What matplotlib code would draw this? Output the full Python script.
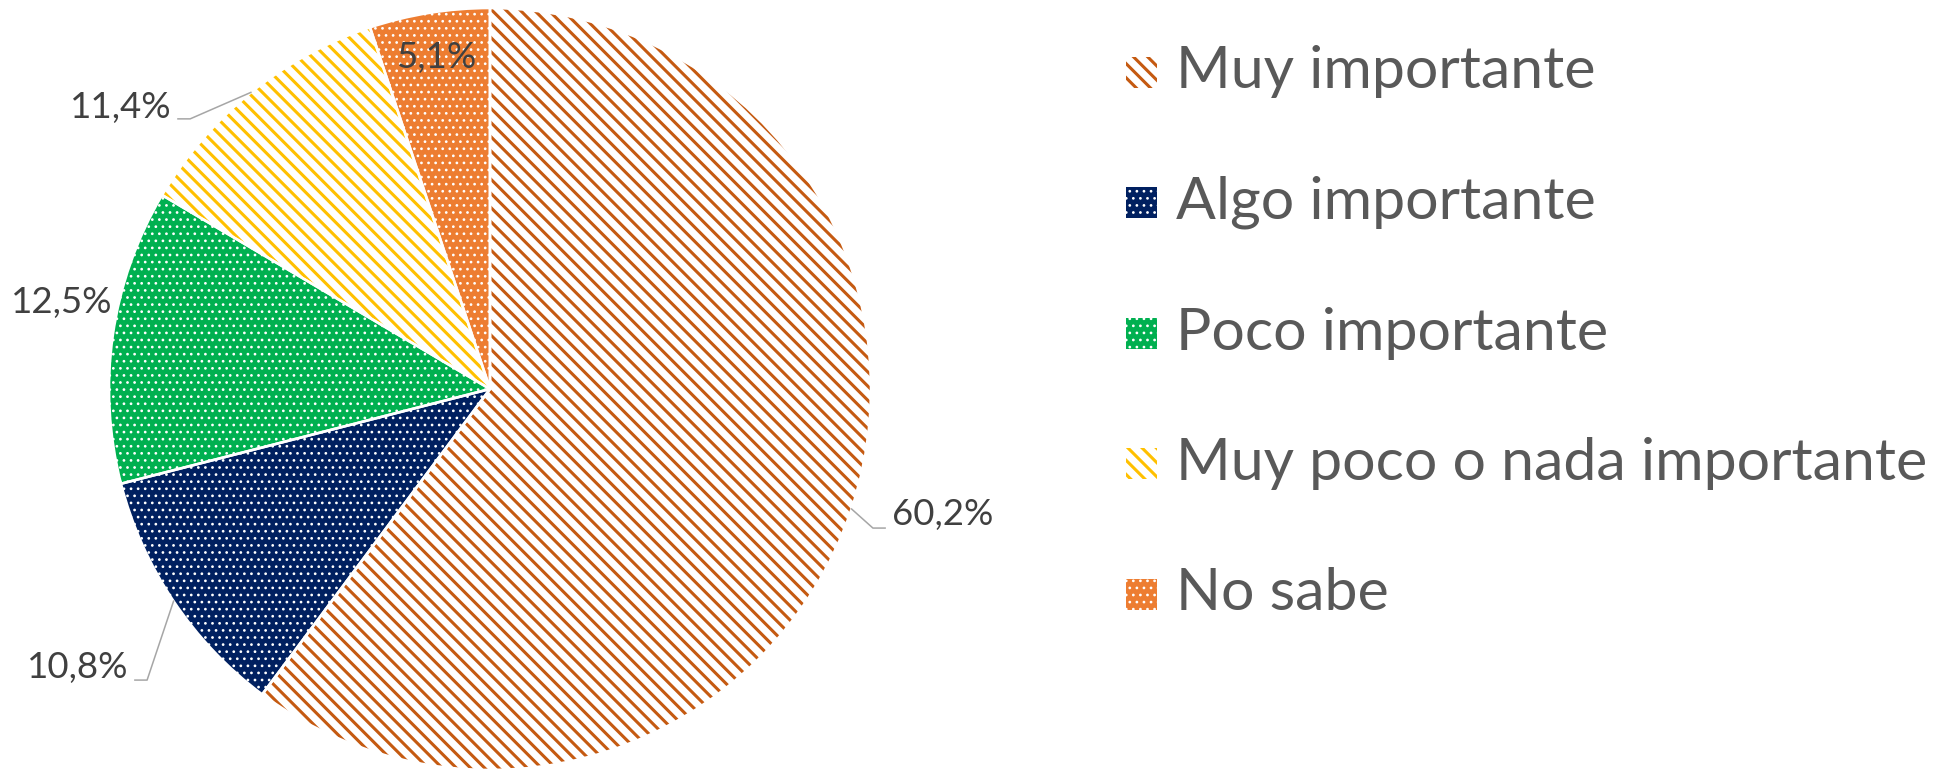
import numpy as np
import matplotlib
matplotlib.use('Agg')
import matplotlib.pyplot as plt
from matplotlib.patches import Rectangle

plt.rcParams['font.family'] = ['Lato', 'DejaVu Sans']

# data
categories = ['Muy importante', 'Algo importante', 'Poco importante',
              'Muy poco o nada importante', 'No sabe']
values = [60.2, 10.8, 12.5, 11.4, 5.1]
labels = ['60,2%', '10,8%', '12,5%', '11,4%', '5,1%']

# style: face, hatch colour, hatch, hatch linewidth
faces = ['white', '#002060', '#00B050', 'white', '#ED7D31']
hcols = ['#C55A11', 'white', 'white', '#FFC000', 'white']
hatches = ['\\\\', '..', '..', '\\\\', '..']
hlw = [2.6, 1.1, 1.1, 2.6, 1.1]

DPI = 85
W, H = 1955, 773
fig = plt.figure(figsize=(W / DPI, H / DPI), dpi=DPI)

# pie centre (490, 389) px from top-left, radius 381 px
cx, cy, r = 490, 389, 381
ax = fig.add_axes([(cx - r) / W, (H - cy - r) / H, 2 * r / W, 2 * r / H])

plt.rcParams['hatch.linewidth'] = 2.6
wedges, _ = ax.pie(values, startangle=90, counterclock=False, radius=1,
                   wedgeprops=dict(linewidth=0))
for w, fc, hc, h, lw in zip(wedges, faces, hcols, hatches, hlw):
    w.set_facecolor(fc)
    w.set_edgecolor(hc)
    w.set_hatch(h)
    w.set_linewidth(0)
    if hasattr(w, 'set_hatch_linewidth'):
        w.set_hatch_linewidth(lw)
# white separators on top
ax.pie(values, startangle=90, counterclock=False, radius=1,
       wedgeprops=dict(fill=False, edgecolor='white', linewidth=2.2))
ax.set_xlim(-1, 1)
ax.set_ylim(-1, 1)
ax.set_aspect('equal')
ax.axis('off')

# data labels: position (axes data units), alignment, leader elbow/end
lab_pos = [(1.055, -0.33, 'left'), (-0.95, -0.73, 'right'),
           (-0.99, 0.226, 'right'), (-0.835, 0.74, 'right'),
           (-0.14, 0.87, 'center')]
leaders = [[(1.005, -0.365), (1.037, -0.365)],
           [(-0.90, -0.764), (-0.932, -0.764)],
           None,
           [(-0.787, 0.709), (-0.819, 0.709)],
           None]
for w, txt, (lx, ly, ha), ld in zip(wedges, labels, lab_pos, leaders):
    ang = np.deg2rad((w.theta1 + w.theta2) / 2)
    if ld is not None:
        xs = [np.cos(ang)] + [p[0] for p in ld]
        ys = [np.sin(ang)] + [p[1] for p in ld]
        ax.plot(xs, ys, color='#A6A6A6', lw=1.3, clip_on=False)
    ax.text(lx, ly, txt, ha=ha, va='center', fontsize=31, color='#404040',
            clip_on=False)

# legend
for i, (cat, fc, hc, h, lw) in enumerate(zip(categories, faces, hcols, hatches, hlw)):
    yc = 72 + 130.5 * i
    sq = 31
    rect = Rectangle((1126 / W, (H - yc - sq / 2) / H), sq / W, sq / H,
                     transform=fig.transFigure, facecolor=fc, edgecolor=hc,
                     hatch=h, linewidth=0)
    if hasattr(rect, 'set_hatch_linewidth'):
        rect.set_hatch_linewidth(lw)
    fig.patches.append(rect)
    fig.text(1176 / W, (H - yc) / H, cat, ha='left', va='center',
             fontsize=50, color='#595959')

fig.savefig('out.png', dpi=DPI)
